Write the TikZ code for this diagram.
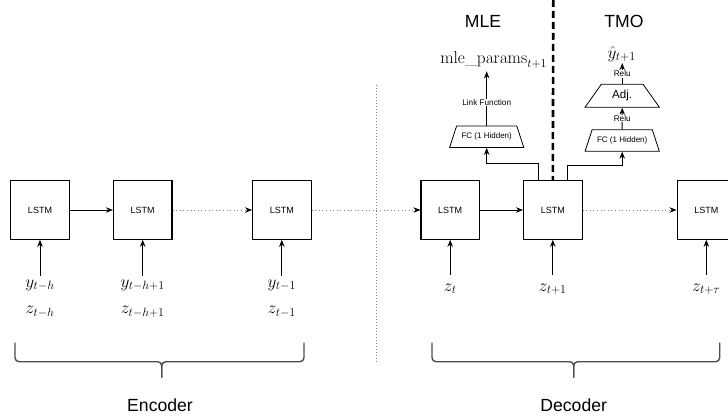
\documentclass[tikz,border=0pt]{standalone}
\usepackage[no-math]{fontspec}
\newfontfamily\arial{Liberation Sans}
\usetikzlibrary{arrows.meta,shapes.geometric,positioning}

\begin{document}
\begin{tikzpicture}[x=1pt,y=-1pt,
    lstm/.style={draw, line width=1.1pt, minimum size=58.5pt, inner sep=0pt, font=\arial\fontsize{9}{10}\selectfont},
    fc/.style={draw, line width=0.8pt, trapezium, trapezium stretches=true, trapezium angle=52, minimum width=74.5pt, minimum height=21.5pt, inner sep=0pt, font=\arial\fontsize{8}{9}\selectfont},
    tip/.style={line width=1pt, -{Stealth[length=7pt,width=5.5pt,black]}},
    dots/.style={gray, line width=0.8pt, dash pattern=on 1pt off 2.6pt},
    mathlbl/.style={font=\fontsize{17.28}{20}\selectfont, inner xsep=1pt},
    title/.style={font=\arial\fontsize{17.6}{20}\selectfont},
    small/.style={font=\arial\fontsize{8.2}{9}\selectfont, fill=white, inner sep=0.6pt},
    brace/.style={draw=black!70, line width=1.4pt, rounded corners=4pt}]
    \useasboundingbox (0,0) rectangle (728,417);
    % encoder cells
    \node[lstm] (e1) at (40,210) {LSTM};
    \node[lstm] (e2) at (142.7,210) {LSTM};
    \node[lstm] (e3) at (281.8,210) {LSTM};
    % decoder cells
    \node[lstm] (d1) at (450.2,210) {LSTM};
    \node[lstm] (d2) at (552.8,210) {LSTM};
    \node[lstm] (d3) at (706.3,210) {LSTM};
    % hidden state
    \draw[tip] (e1) -- (e2);
    \draw[tip, dots] (e2) -- (e3);
    \draw[tip, dots] (e3) -- (d1);
    \draw[tip] (d1) -- (d2);
    \draw[tip, dots] (d2) -- (d3);
    % encoder inputs
    \node[mathlbl, anchor=base, inner ysep=4pt] (y1) at (40,287.4) {$y_{t-h}$};
    \node[mathlbl, anchor=base, inner ysep=4pt] (y2) at (142.7,287.4) {$y_{t-h+1}$};
    \node[mathlbl, anchor=base, inner ysep=4pt] (y3) at (281.8,287.4) {$y_{t-1}$};
    \node[mathlbl, anchor=base] (z1) at (40,313.5) {$z_{t-h}$};
    \node[mathlbl, anchor=base] (z2) at (142.7,313.5) {$z_{t-h+1}$};
    \node[mathlbl, anchor=base] (z3) at (281.8,313.5) {$z_{t-1}$};
    \draw[tip] (y1.north) -- (e1.south);
    \draw[tip] (y2.north) -- (e2.south);
    \draw[tip] (y3.north) -- (e3.south);
    % decoder inputs
    \node[mathlbl, anchor=base, inner ysep=8.6pt] (z4) at (450.2,291) {$z_{t}$};
    \node[mathlbl, anchor=base, inner ysep=8.6pt] (z5) at (552.8,291) {$z_{t+1}$};
    \node[mathlbl, anchor=base, inner ysep=8.6pt] (z6) at (706.3,291) {$z_{t+\tau}$};
    \draw[tip] (z4.north) -- (d1.south);
    \draw[tip] (z5.north) -- (d2.south);
    \draw[tip] (z6.north) -- (d3.south);
    % separators
    \draw[dots, line width=1pt, dash pattern=on 1.2pt off 1.8pt] (376.7,85) -- (376.7,362); % encoder / decoder
    \coordinate (top) at (553.3,0);
    \draw[line width=2.6pt, dash pattern=on 7pt off 4pt] (top) -- (d2.north); % MLE / TMO
    \node[title] (mlet) at (483,21.7) {MLE};
    \node[title] (tmot) at (624,21.7) {TMO};
    % MLE head
    \node[fc] (mfc) at (486.7,136.8) {FC (1 Hidden)};
    \node[mathlbl, anchor=base, inner sep=3pt] (mle) at (493.7,63.3) {$\mathrm{mle\_params}_{t+1}$};
    \draw[tip] ([xshift=-14.5pt]d2.north) -- ++(0,-16.7) -| (mfc.south);
    \draw[tip] (mfc.north) -- (mfc.north |- mle.south) node[small, pos=0.42] {Link Function};
    % TMO head
    \node[fc] (tfc) at (622.2,140.5) {FC (1 Hidden)};
    \node[fc, trapezium angle=54, minimum height=23pt, font=\arial\fontsize{11.6}{13}\selectfont] (adj) at (622.2,95.8) {Adj.};
    \node[mathlbl, anchor=base, inner sep=1pt] (yhat) at (621.7,58.4) {$\hat{y}_{t+1}$};
    \draw[tip] ([xshift=14.5pt]d2.north) -- ++(0,-14.7) -| (tfc.south);
    \draw[tip] (tfc.north) -- (adj.south) node[small, pos=0.5] {Relu};
    \draw[tip] (adj.north) -- (yhat.south -| adj.north) node[small, pos=0.48] {Relu};
    % braces
    \draw[brace] (15,342.7) |- (161.7,361.7) -- (161.7,377.7);
    \draw[brace] (304,342.7) |- (161.7,361.7) -- (161.7,377.7);
    \draw[brace] (432,342.7) |- (573.7,361.7) -- (573.7,377.7);
    \draw[brace] (719.7,342.7) |- (573.7,361.7) -- (573.7,377.7);
    \node[title] (enc) at (160,405) {Encoder};
    \node[title] (dec) at (573.7,405) {Decoder};
\end{tikzpicture}
\end{document}
